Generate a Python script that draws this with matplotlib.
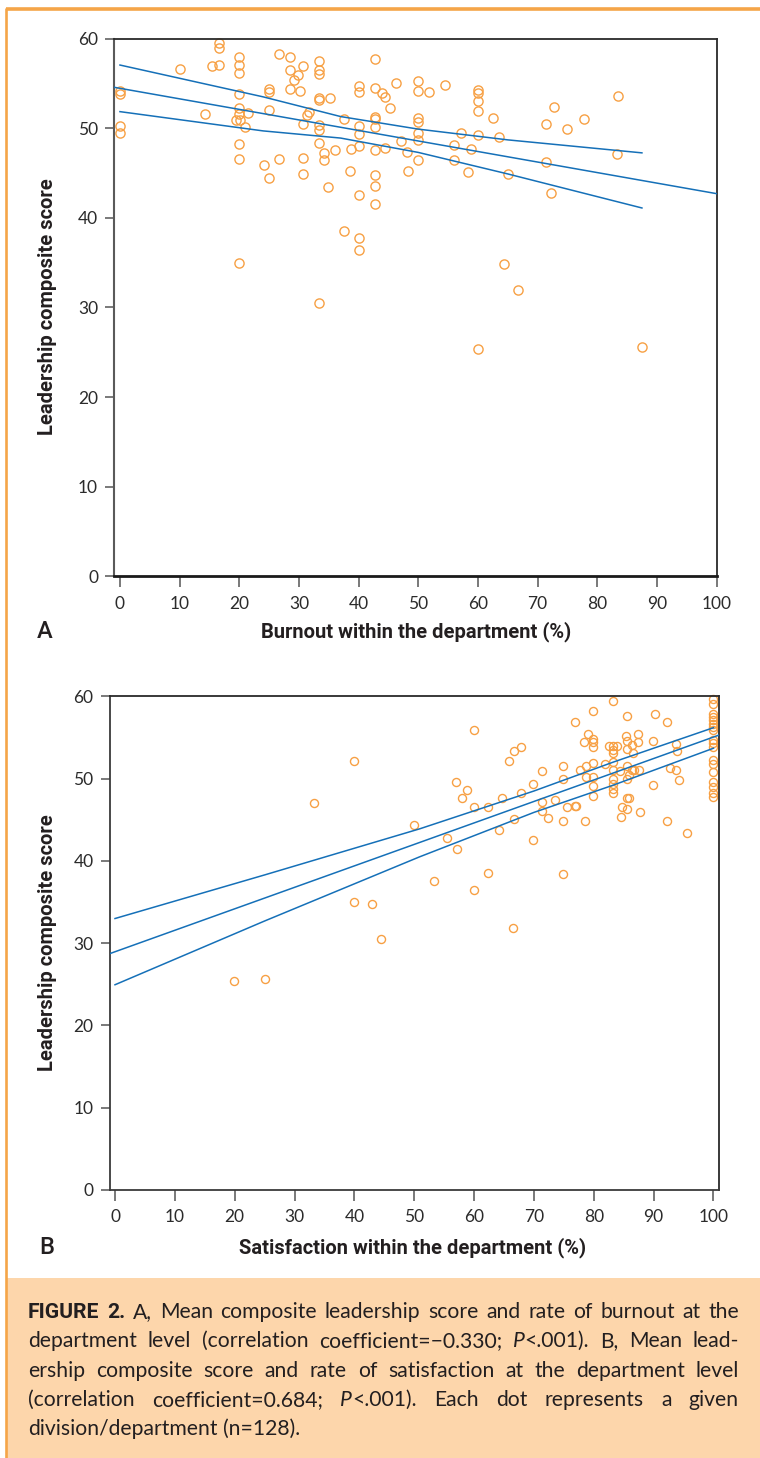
import matplotlib
matplotlib.use('Agg')
import matplotlib.pyplot as plt
from matplotlib import font_manager as fm
from matplotlib.lines import Line2D
from matplotlib.patches import Rectangle

# ---------------- data ----------------
burnout_x = [0, 0, 0, 0, 10, 14.2, 15.4, 16.6, 16.6, 16.6,
             20, 20, 20, 20, 20, 20, 19.5, 20.1, 20.9, 21.5,
             20, 20, 20, 24.2, 25, 25, 25, 25, 26.6, 26.7,
             28.5, 28.5, 28.5, 29.2, 29.9, 30.7, 30.2, 30.6, 30.7, 30.7,
             31.4, 31.7, 33.3, 33.3, 33.3, 33.3, 33.3, 33.3, 33.3, 33.3,
             34.2, 34.2, 34.8, 35.2, 36.0, 37.5, 37.5, 38.5, 38.7, 40,
             40, 40, 40, 40, 40, 40, 40, 42.8, 42.8, 44.0,
             44.4, 42.8, 42.8, 42.8, 42.8, 42.8, 42.8, 42.8, 44.5, 45.3,
             46.3, 47.1, 48.1, 48.3, 50, 50, 50, 50, 50, 50,
             50, 51.8, 54.5, 60, 60, 60, 60, 62.6, 57.1, 56.0,
             56.0, 58.8, 58.3, 60, 63.6, 65.0, 64.4, 71.4, 72.8, 75.0,
             77.8, 71.4, 72.3, 83.5, 83.3, 33.4, 66.8, 60, 87.5]
burnout_score = [54.2, 53.8, 50.3, 49.5, 56.6, 51.6, 56.9, 59.5, 58.9, 57.1,
                 58.0, 57.0, 56.2, 53.8, 52.3, 51.6, 50.9, 50.9, 50.1, 51.7,
                 48.2, 46.6, 35.0, 45.9, 44.5, 54.4, 54.0, 52.0, 46.6, 58.3,
                 57.9, 56.5, 54.4, 55.4, 55.9, 56.9, 54.2, 50.5, 46.7, 44.9,
                 51.5, 51.8, 57.5, 56.5, 56.0, 53.4, 53.1, 50.4, 49.8, 48.3,
                 47.2, 46.5, 43.4, 53.4, 47.6, 51.0, 38.5, 45.2, 47.7, 54.7,
                 54.0, 50.2, 49.3, 48.0, 42.5, 37.7, 36.4, 57.7, 54.5, 53.9,
                 53.5, 51.3, 51.0, 50.1, 47.6, 44.8, 43.6, 41.5, 47.8, 52.3,
                 55.1, 48.6, 47.3, 45.2, 55.3, 54.2, 51.1, 50.7, 49.5, 48.7,
                 46.4, 54.0, 54.8, 54.3, 53.9, 53.0, 51.95, 51.1, 49.5, 48.1,
                 46.5, 47.7, 45.1, 49.2, 49.0, 44.9, 34.8, 50.5, 52.4, 49.9,
                 51.0, 46.2, 42.8, 53.6, 47.1, 30.5, 31.9, 25.4, 25.6]

# regression line (spans the axis) and confidence band (spans the data)
burnout_fit_x = [-1.0, 100]
burnout_fit_y = [54.57, 42.7]
burnout_band_x = [0, 24, 37, 50, 65, 87.5]
burnout_band_hi = [57.05, 53.5, 51.3, 49.9, 48.7, 47.25]
burnout_band_lo = [51.85, 49.7, 48.9, 47.3, 44.9, 41.1]

satisfaction_x = [40.0, 33.3, 50.0, 40.0, 42.9,
                  55.5, 57.1, 64.2, 69.9, 53.3, 59.9, 62.4, 74.9, 44.4, 66.5, 19.9, 25.0, 95.5,
                  59.9, 57.0, 58.8, 58.0, 59.9, 62.4, 64.6, 65.9, 66.6, 67.9,
                  67.9, 66.6, 69.9, 71.3, 71.3, 71.3, 72.3, 73.5, 74.9, 74.9,
                  74.9, 75.5, 76.9, 77.1, 76.8, 77.7, 78.4, 79.0, 78.7, 78.7,
                  78.5, 79.8, 79.8, 79.8, 79.8, 79.8, 79.8, 79.8, 79.8, 81.8,
                  82.5, 83.2, 83.9, 83.2, 83.2, 83.2, 83.2, 83.2, 83.2, 83.2,
                  83.2, 83.2, 84.3, 84.5, 84.7, 85.6, 85.3, 85.6, 85.6, 86.6,
                  86.4, 87.4, 87.4, 85.6, 85.6, 85.9, 86.4, 86.8, 87.5, 85.6,
                  85.9, 85.6, 87.8, 89.9, 90.3, 92.2, 89.9, 92.2, 92.7, 93.7,
                  94.3, 93.8, 93.9,
                  100, 100, 100, 100, 100, 100, 100, 100, 100,
                  100, 100, 100, 100, 100, 100, 100, 100, 100]
satisfaction_score = [52.2, 47.1, 44.4, 35.0, 34.8,
                      42.8, 41.5, 43.7, 42.5, 37.6, 36.5, 38.5, 38.4, 30.5, 31.8, 25.4, 25.6, 43.4,
                      55.9, 49.6, 48.6, 47.7, 46.6, 46.5, 47.7, 52.2, 53.4, 53.9,
                      48.2, 45.1, 49.4, 50.9, 47.2, 46.1, 45.2, 47.4, 51.5, 50.0,
                      44.9, 46.5, 46.7, 46.7, 56.9, 51.0, 54.4, 55.4, 51.6, 50.2,
                      44.9, 58.2, 54.8, 54.4, 53.9, 51.9, 50.2, 49.1, 47.9, 51.8,
                      54.0, 54.0, 54.0, 59.4, 53.5, 53.1, 52.0, 51.1, 49.9, 49.4,
                      48.7, 48.3, 50.9, 45.3, 46.6, 57.6, 55.2, 54.6, 53.6, 53.1,
                      54.1, 55.4, 54.4, 51.6, 50.0, 50.4, 51.0, 51.1, 51.1, 47.6,
                      47.6, 46.3, 45.9, 54.6, 57.8, 56.9, 49.2, 44.9, 51.3, 51.1,
                      49.8, 54.2, 53.4,
                      59.7, 59.05, 57.9, 57.5, 57.1, 56.7, 56.3, 55.9, 54.7,
                      54.3, 53.9, 52.3, 51.8, 50.8, 49.6, 49.0, 48.2, 47.8]

satisfaction_fit_x = [-0.92, 100.92]
satisfaction_fit_y = [28.72, 55.30]
satisfaction_band_x = [0, 25, 50.9, 70, 83.2, 100]
satisfaction_band_hi = [33.0, 38.3, 43.9, 48.5, 52.0, 56.2]
satisfaction_band_lo = [24.95, 32.7, 40.5, 45.9, 49.2, 53.7]

x_ticks = [0, 10, 20, 30, 40, 50, 60, 70, 80, 90, 100]
y_ticks = [0, 10, 20, 30, 40, 50, 60]

label_y = "Leadership composite score"
label_xa = "Burnout within the department (%)"
label_xb = "Satisfaction within the department (%)"

caption_lines = [
    "*FIGURE* *2.* A, Mean composite leadership score and rate of burnout at the",
    "department level (correlation coefficient=\u22120.330; _P_<.001). B, Mean lead-",
    "ership composite score and rate of satisfaction at the department level",
    "(correlation coefficient=0.684; _P_<.001). Each dot represents a given",
    "division/department (n=128).",
]

# ---------------- style ----------------
W, H = 760, 1458
ORANGE = '#F7A044'
BLUE = '#1570B8'
FRAME = '#F5A548'
PEACH = '#FDD6AB'
TXT = '#231F20'


def have(name):
    try:
        fm.findfont(fm.FontProperties(family=name), fallback_to_default=False)
        return True
    except Exception:
        return False


NARROW = 'Liberation Sans Narrow' if have('Liberation Sans Narrow') else 'Roboto'
BODY = 'Lato' if have('Lato') else 'DejaVu Sans'

plt.rcParams['font.family'] = [BODY, 'DejaVu Sans']

fig = plt.figure(figsize=(W / 100, H / 100), dpi=100)
fig.patch.set_facecolor('white')


def fx(px):
    return px / W


def fy(py):
    return 1 - py / H


# caption box and frame
fig.add_artist(Rectangle((fx(6), 0), 1 - fx(6), fy(1277.5), transform=fig.transFigure,
                         facecolor=PEACH, edgecolor='none', zorder=0))
fig.add_artist(Line2D([fx(5.5), 1], [fy(9), fy(9)], transform=fig.transFigure,
                      color=FRAME, lw=2.6, solid_capstyle='butt', zorder=1))
fig.add_artist(Line2D([fx(5.5), fx(5.5)], [fy(7.5), 0], transform=fig.transFigure,
                      color=FRAME, lw=1.9, solid_capstyle='butt', zorder=1))


def style_axes(ax, xlim, spine_w):
    ax.set_xlim(*xlim)
    ax.set_ylim(0, 60)
    ax.set_xticks(x_ticks)
    ax.set_yticks(y_ticks)
    ax.set_xticklabels([str(t) for t in x_ticks])
    ax.set_yticklabels([str(t) for t in y_ticks])
    ax.tick_params(axis='x', direction='out', length=8, width=1.1, color='#555555',
                   pad=6, labelsize=12.5, labelcolor='#2b2b2b')
    ax.tick_params(axis='y', direction='out', length=6.5, width=1.1, color='#555555',
                   pad=5, labelsize=12.5, labelcolor='#2b2b2b')
    for lab in ax.get_xticklabels() + ax.get_yticklabels():
        lab.set_fontweight('normal')
        lab.set_fontfamily([BODY, 'DejaVu Sans'])
    for k, (c, w) in spine_w.items():
        ax.spines[k].set_color(c)
        ax.spines[k].set_linewidth(w)
    ax.set_facecolor('white')


# ---------------- panel A ----------------
axA = fig.add_axes([fx(114), fy(576.3), fx(716.5) - fx(114), fy(38.6) - fy(576.3)])
style_axes(axA, (-1.0, 100), {'left': ('#5a5a5a', 1.5), 'bottom': ('#1a1a1a', 2.0),
                              'top': ('#2a2a2a', 1.3), 'right': ('#2a2a2a', 1.3)})
axA.plot(burnout_x, burnout_score, linestyle='none', marker='o', ms=6.6,
         mfc='none', mec=ORANGE, mew=1.0, zorder=2, clip_on=False)
axA.plot(burnout_fit_x, burnout_fit_y, color=BLUE, lw=1.1, zorder=3)
axA.plot(burnout_band_x, burnout_band_hi, color=BLUE, lw=1.1, zorder=3)
axA.plot(burnout_band_x, burnout_band_lo, color=BLUE, lw=1.1, zorder=3)

# ---------------- panel B ----------------
axB = fig.add_axes([fx(109.5), fy(1190), fx(719) - fx(109.5), fy(696.4) - fy(1190)])
style_axes(axB, (-0.92, 100.92), {'left': ('#3a3a3a', 1.3), 'bottom': ('#3a3a3a', 1.3),
                                  'top': ('#2a2a2a', 1.3), 'right': ('#2a2a2a', 1.3)})
axB.plot(satisfaction_x, satisfaction_score, linestyle='none', marker='o', ms=5.8,
         mfc='none', mec=ORANGE, mew=1.0, zorder=2, clip_on=False)
axB.plot(satisfaction_fit_x, satisfaction_fit_y, color=BLUE, lw=1.1, zorder=3)
axB.plot(satisfaction_band_x, satisfaction_band_hi, color=BLUE, lw=1.1, zorder=3)
axB.plot(satisfaction_band_x, satisfaction_band_lo, color=BLUE, lw=1.1, zorder=3)

# ---------------- axis labels ----------------
lab_kw = dict(fontfamily=[NARROW, 'DejaVu Sans'], fontweight='bold', fontsize=14.5, color=TXT)
fig.text(fx(48), fy(307), label_y, rotation=90, ha='center', va='center', **lab_kw)
fig.text(fx(416), fy(632), label_xa, ha='center', va='center', **lab_kw)
fig.text(fx(48), fy(943), label_y, rotation=90, ha='center', va='center', **lab_kw)
fig.text(fx(413), fy(1248), label_xb, ha='center', va='center', **lab_kw)
pan_kw = dict(fontfamily=[NARROW, 'DejaVu Sans'], fontweight='medium', fontsize=17, color=TXT)
fig.text(fx(45), fy(632), 'A', ha='center', va='center', **pan_kw)
fig.text(fx(47), fy(1247), 'B', ha='center', va='center', **pan_kw)

# ---------------- justified caption ----------------
CAP_SIZE = 15.2


def parse_word(word):
    runs, cur, mode = [], '', 'r'
    for ch in word:
        if ch in '*_':
            if cur:
                runs.append((cur, mode))
            cur = ''
            newmode = 'b' if ch == '*' else 'i'
            mode = 'r' if mode == newmode else newmode
        else:
            cur += ch
    if cur:
        runs.append((cur, mode))
    return runs


def run_props(mode):
    if mode == 'b':
        return dict(fontfamily=[NARROW, 'DejaVu Sans'], fontweight='bold', fontstyle='normal')
    if mode == 'i':
        return dict(fontfamily=[BODY, 'DejaVu Sans'], fontweight='normal', fontstyle='italic')
    return dict(fontfamily=[BODY, 'DejaVu Sans'], fontweight='normal', fontstyle='normal')


renderer = fig.canvas.get_renderer()


def measure(text, mode):
    t = fig.text(0, 0, text, fontsize=CAP_SIZE, **run_props(mode))
    w = t.get_window_extent(renderer).width
    t.remove()
    return w


space_w = measure('a a', 'r') - measure('aa', 'r')
X0, X1 = 28, 739
baselines = [1318, 1347.3, 1376.6, 1405.9, 1435.2]
for li, line in enumerate(caption_lines):
    words = [parse_word(w) for w in line.split(' ')]
    widths = [[measure(t, m) for t, m in wd] for wd in words]
    totals = [sum(ws) for ws in widths]
    last = li == len(caption_lines) - 1
    if last or len(words) < 2:
        gap = space_w
    else:
        gap = (X1 - X0 - sum(totals)) / (len(words) - 1)
    x = X0
    for wd, ws in zip(words, widths):
        for (t, m), w in zip(wd, ws):
            fig.text(fx(x), fy(baselines[li]), t, fontsize=CAP_SIZE, color=TXT,
                     ha='left', va='baseline', **run_props(m))
            x += w
        x += gap

fig.savefig('out.png', dpi=100, facecolor='white')
